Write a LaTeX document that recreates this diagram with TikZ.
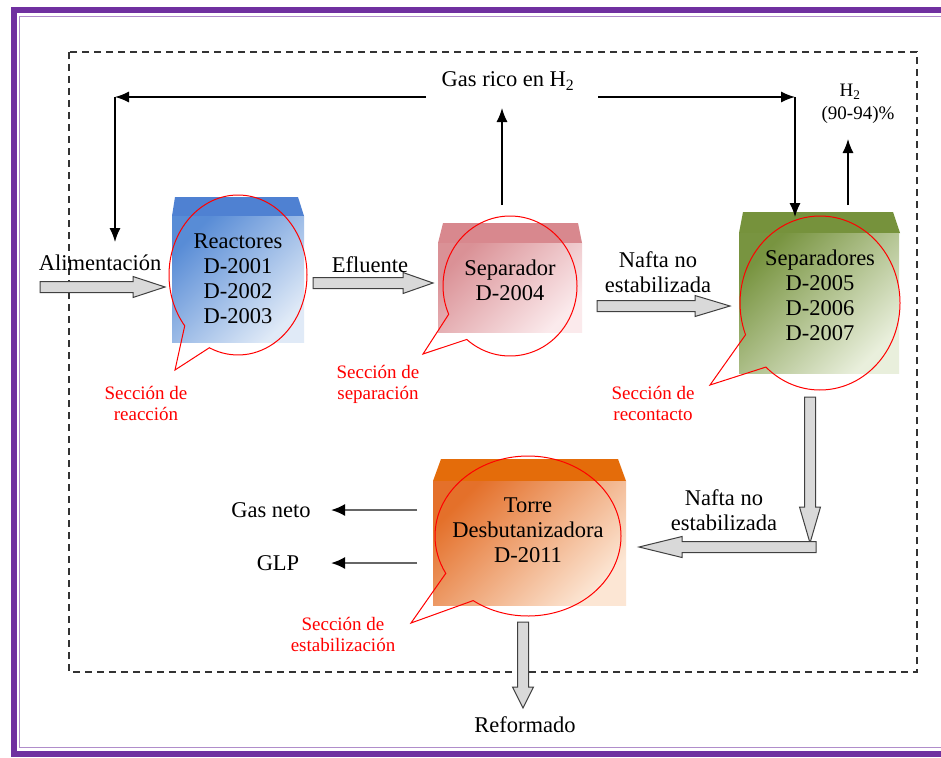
\documentclass[tikz,border=0pt]{standalone}
\usepackage{fontspec}
\setmainfont{Liberation Serif}
\usetikzlibrary{calc,arrows.meta,shapes.callouts}

\definecolor{marco}{RGB}{112,48,160}
\definecolor{reacTop}{RGB}{79,129,210}
\definecolor{reacDark}{RGB}{88,140,214}
\definecolor{reacLight}{RGB}{224,234,247}
\definecolor{sepTop}{RGB}{216,136,142}
\definecolor{sepDark}{RGB}{218,145,150}
\definecolor{sepLight}{RGB}{251,234,236}
\definecolor{recTop}{RGB}{118,146,60}
\definecolor{recDark}{RGB}{120,148,64}
\definecolor{recLight}{RGB}{233,239,220}
\definecolor{estTop}{RGB}{228,108,10}
\definecolor{estDark}{RGB}{228,112,42}
\definecolor{estLight}{RGB}{252,230,212}

\tikzset{
  fatarrow/.style={draw=black!75, line width=1pt, fill=black!15, line join=miter},
  flecha/.style={line width=1.3pt, -{Latex[length=14pt,width=11pt]}},
  flechagris/.style={draw=black!60, line width=2pt, -{Latex[length=14pt,width=12pt,black]}},
  burbuja/.style={ellipse callout, draw=red, line width=1pt, inner sep=0pt, callout pointer arc=26},
  texto/.style={font=\fontsize{22.5}{25}\selectfont, align=center, inner sep=0pt},
  seccion/.style={font=\fontsize{19}{21}\selectfont, text=red, align=center, inner sep=0pt},
}
% fat outlined arrows: start, tip, head length (signed)
\def\fatarrowh(#1)(#2)#3{\draw[fatarrow] ($(#1)+(0,-5.5)$) -- ($(#2)+({-(#3)},-5.5)$) -- ($(#2)+({-(#3)},-10.5)$) -- (#2) -- ($(#2)+({-(#3)},10.5)$) -- ($(#2)+({-(#3)},5.5)$) -- ($(#1)+(0,5.5)$) -- cycle;}
\def\fatarrowv(#1)(#2)#3{\draw[fatarrow] ($(#1)+(-5.5,0)$) -- ($(#2)+(-5.5,{-(#3)})$) -- ($(#2)+(-10.5,{-(#3)})$) -- (#2) -- ($(#2)+(10.5,{-(#3)})$) -- ($(#2)+(5.5,{-(#3)})$) -- ($(#1)+(5.5,0)$) -- cycle;}

\begin{document}
\begin{tikzpicture}[x=1pt,y=-1pt]
	%%%%% START %%%%%
	\useasboundingbox (0,0) rectangle (941,757);
	\fill[white] (0,0) rectangle (941,757);
	
	\draw[line width=6pt, marco] (960,10) -- (14,10) -- (14,754) -- (960,754);
	\draw[line width=1.2pt, marco!55] (960,16.5) -- (19.5,16.5) -- (19.5,747.5) -- (960,747.5);
	
	\draw[line width=1.5pt, black!80, dash pattern=on 7pt off 5pt] (69,52) rectangle (917,672);
	
	% equipos
	\fill[reacTop] (175,197) -- (298,197) -- (304,216) -- (172,216) -- cycle;
	\shade[top color=reacDark, bottom color=reacLight, shading angle=45] (172,216) rectangle (304,342);
	
	\fill[sepTop] (443,223) -- (578,223) -- (582,243) -- (438,243) -- cycle;
	\shade[top color=sepDark, bottom color=sepLight, shading angle=45] (438,243) rectangle (582,332);
	
	\fill[recTop] (743,212) -- (893,212) -- (900,233) -- (739,233) -- cycle;
	\shade[top color=recDark, bottom color=recLight, shading angle=45] (739,233) rectangle (899,373);
	
	\fill[estTop] (441,459) -- (618,459) -- (626,481) -- (433,481) -- cycle;
	\shade[top color=estDark, bottom color=estLight, shading angle=45] (433,481) rectangle (626,605);
	
	% globos
	\coordinate (reactip) at (175,370);
	\coordinate (septip) at (423,354);
	\coordinate (rectip) at (710,385);
	\coordinate (esttip) at (411,623);
	\node[burbuja, minimum width=138pt, minimum height=160pt, callout absolute pointer={(reactip)}] (reacbub) at (238,275) {};
	\node[burbuja, minimum width=134pt, minimum height=140pt, callout absolute pointer={(septip)}] (sepbub) at (510,286) {};
	\node[burbuja, minimum width=160pt, minimum height=174pt, callout absolute pointer={(rectip)}] (recbub) at (820,303) {};
	\node[burbuja, minimum width=186pt, minimum height=160pt, callout absolute pointer={(esttip)}] (estbub) at (528,536) {};
	
	\node[texto] (reac) at (238,279) {Reactores\\D-2001\\D-2002\\D-2003};
	\node[texto] (sep) at (510,280) {Separador\\D-2004};
	\node[texto] (rec) at (820,295) {Separadores\\D-2005\\D-2006\\D-2007};
	\node[texto] (est) at (528,530) {Torre\\Desbutanizadora\\D-2011};
	
	\node[seccion] (secreac) at (146,403) {Sección de\\reacción};
	\node[seccion] (secsep) at (378,384) {Sección de\\separación};
	\node[seccion] (secrec) at (653,403) {Sección de\\recontacto};
	\node[seccion] (secest) at (343,634) {Sección de\\estabilización};
	
	% corrientes
	\node[texto] (alim) at (100,263) {Alimentación};
	\node[texto] (eflu) at (370,265) {Efluente};
	\node[texto] (nafta) at (658,272) {Nafta no\\estabilizada};
	\node[texto] (nafta2) at (724,510) {Nafta no\\estabilizada};
	\node[texto] (gasneto) at (271,510) {Gas neto};
	\node[texto] (glp) at (278,563) {GLP};
	\node[texto] (refor) at (525,725) {Reformado};
	\node[texto] (gasrico) at (508,81) {Gas rico en H\textsubscript{2}};
	\node[seccion, text=black] (h2) at (850,92) {H\textsubscript{2}};
	\node[seccion, text=black] (h2pct) at (858,115) {(90-94)\%};
	
	\coordinate (alimA) at (40,287);   \coordinate (alimB) at (165,287);
	\coordinate (efluA) at (313,283);  \coordinate (efluB) at (433,283);
	\coordinate (naftaA) at (597,306); \coordinate (naftaB) at (730,306);
	\coordinate (bajaA) at (810,397);  \coordinate (bajaB) at (810,543);
	\coordinate (vaA) at (816,547);    \coordinate (vaB) at (639,547);
	\coordinate (refA) at (523,622);   \coordinate (refB) at (523,708);
	
	\fatarrowh(alimA)(alimB){32}
	\fatarrowh(efluA)(efluB){30}
	\fatarrowh(naftaA)(naftaB){35}
	\fatarrowv(bajaA)(bajaB){36}
	\fatarrowh(vaA)(vaB){-43}
	\fatarrowv(refA)(refB){21}
	
	\coordinate (gasL) at (426,97);   \coordinate (esqL) at (115,97);   \coordinate (reacin) at (115,242);
	\coordinate (gasR) at (598,97);   \coordinate (esqR) at (795,97);   \coordinate (recin) at (795,217);
	\coordinate (sepout) at (502,205); \coordinate (gasup) at (502,108);
	\coordinate (h2out) at (848,205);  \coordinate (h2up) at (848,139);
	\draw[flecha] (gasL) -- (esqL);
	\draw[flecha] (esqL) -- (reacin);
	\draw[flecha] (gasR) -- (esqR);
	\draw[flecha] (esqR) -- (recin);
	\draw[flecha] (sepout) -- (gasup);
	\draw[flecha] (h2out) -- (h2up);
	
	\coordinate (gnA) at (417,510); \coordinate (gnB) at (331,510);
	\coordinate (glA) at (417,563); \coordinate (glB) at (331,563);
	\draw[flechagris] (gnA) -- (gnB);
	\draw[flechagris] (glA) -- (glB);
	%%%%% END %%%%%
\end{tikzpicture}
\end{document}
